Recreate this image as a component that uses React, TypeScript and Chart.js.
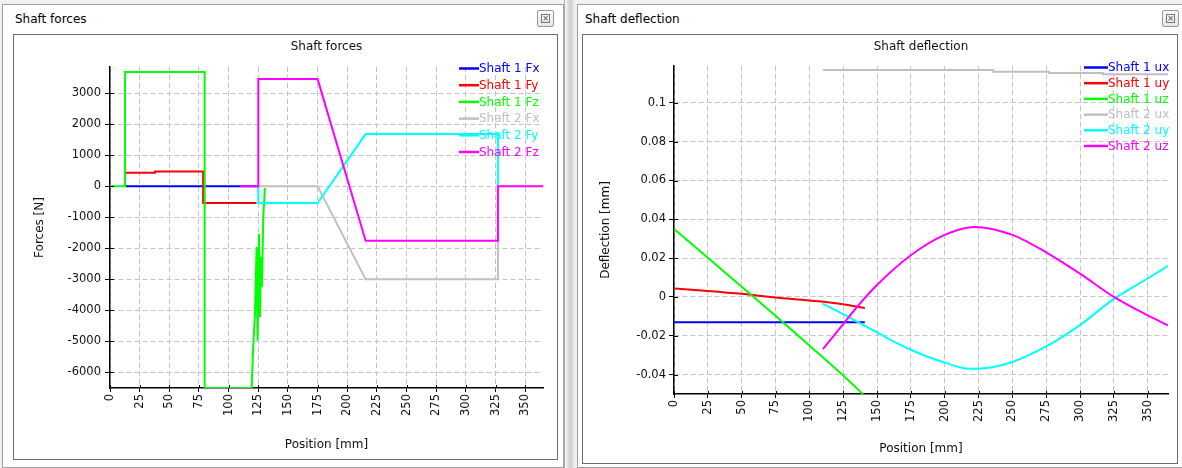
import React, { useEffect, useRef } from 'react';
import { Chart, registerables } from 'chart.js';

Chart.register(...registerables);

const FONT = '"DejaVu Sans", Verdana, sans-serif';
const COLORS = ['#0000ff', '#ff0000', '#00ff00', '#c0c0c0', '#00ffff', '#ff00ff'];
const GRID = '#c4c4c4';
const TEXT = '#111111';

// ---------- Shaft forces [N] vs position [mm] ----------
const forceLabels = ['Shaft 1 Fx', 'Shaft 1 Fy', 'Shaft 1 Fz', 'Shaft 2 Fx', 'Shaft 2 Fy', 'Shaft 2 Fz'];

const s1FxPos = [13.5, 125];
const s1FxVal = [0, 0];

const s1FyPos = [13.5, 38, 38, 78.5, 78.5, 123.5];
const s1FyVal = [430, 430, 470, 470, -540, -540];

const s1FzPos = [0, 12.7, 12.7, 79.8, 79.8, 119.4, 120.7, 122.2, 122.8, 123.6, 124.4, 125.6, 126.4, 127.3, 128.1, 129.2, 130.6];
const s1FzVal = [0, 0, 3680, 3680, -6500, -6500, -5180, -4100, -3140, -1960, -4970, -1530, -4210, -2280, -3250, -990, -60];

const s2FxPos = [125, 175, 215.5, 327, 327];
const s2FxVal = [0, 0, -3000, -3000, 0];

const s2FyPos = [125, 125, 175, 215.5, 327, 327];
const s2FyVal = [0, -540, -540, 1680, 1680, 0];

const s2FzPos = [109.5, 125, 125, 175, 215.5, 327, 327, 365];
const s2FzVal = [0, 0, 3450, 3450, -1760, -1760, 0, 0];

// ---------- Shaft deflection [mm] vs position [mm] ----------
const deflLabels = ['Shaft 1 ux', 'Shaft 1 uy', 'Shaft 1 uz', 'Shaft 2 ux', 'Shaft 2 uy', 'Shaft 2 uz'];

const s1uxPos = [0, 141];
const s1uxVal = [-0.013, -0.013];

const s1uyPos = [0, 25, 50, 75, 100, 125, 141];
const s1uyVal = [0.0044, 0.0031, 0.0016, -0.0003, -0.0018, -0.0037, -0.0057];

const s1uzPos = [0, 25, 50, 75, 100, 125, 141];
const s1uzVal = [0.035, 0.0202, 0.0053, -0.0097, -0.025, -0.0405, -0.051];

const s2uxPos = [110, 236, 236, 277, 277, 317, 317, 365];
const s2uxVal = [0.1169, 0.1169, 0.1161, 0.1161, 0.1154, 0.1154, 0.1148, 0.1148];

const s2uyPos = [110, 125, 137, 150, 162, 175, 187, 200, 211, 220, 235, 250, 275, 300, 325, 350, 365];
const s2uyVal = [-0.0034, -0.0088, -0.0134, -0.0182, -0.0229, -0.0272, -0.0307, -0.0338, -0.0362, -0.037, -0.0362, -0.0335, -0.0255, -0.0145, -0.001, 0.0095, 0.016];

const s2uzPos = [110, 125, 135, 150, 175, 200, 222, 250, 275, 300, 325, 350, 365];
const s2uzVal = [-0.0269, -0.014, -0.0053, 0.0062, 0.0215, 0.032, 0.0361, 0.032, 0.023, 0.012, 0.0, -0.0095, -0.0146];

// axis ranges and tick labels
const posMin = 0;
const posMax = 365;
const posTicks = [0, 25, 50, 75, 100, 125, 150, 175, 200, 225, 250, 275, 300, 325, 350];
const forceMin = -6500;
const forceMax = 3840;
const forceTicks = [-6000, -5000, -4000, -3000, -2000, -1000, 0, 1000, 2000, 3000];
const deflMin = -0.05;
const deflMax = 0.119;
const deflTicks = [-0.04, -0.02, 0, 0.02, 0.04, 0.06, 0.08, 0.1];

const pts = (xs: number[], ys: number[]) => xs.map((x, i) => ({ x, y: ys[i] }));

const overlayPlugin = {
  id: 'overlay',
  afterDraw(chart: any, _args: any, opts: any) {
    const { ctx, chartArea } = chart;
    const { left, right, top, bottom } = chartArea;
    ctx.save();
    ctx.strokeStyle = '#000';
    ctx.lineWidth = 1;
    const ys = chart.scales.y;
    ys.ticks.forEach((_t: any, i: number) => {
      const py = Math.round(ys.getPixelForTick(i)) + 0.5;
      ctx.beginPath();
      ctx.moveTo(left, py);
      ctx.lineTo(left + 4, py);
      ctx.stroke();
    });
    const xs = chart.scales.x;
    xs.ticks.forEach((_t: any, i: number) => {
      const px = Math.round(xs.getPixelForTick(i)) + 0.5;
      ctx.beginPath();
      ctx.moveTo(px, bottom);
      ctx.lineTo(px, bottom - 3);
      ctx.stroke();
    });
    ctx.font = '12px ' + FONT;
    ctx.fillStyle = TEXT;
    ctx.textAlign = 'center';
    ctx.textBaseline = 'middle';
    ctx.fillText(opts.title, (left + right) / 2, opts.titleY);
    ctx.textAlign = 'left';
    chart.data.datasets.forEach((ds: any, i: number) => {
      const y = top + opts.legY0 + i * opts.legDy;
      ctx.strokeStyle = ds.borderColor;
      ctx.lineWidth = 2.5;
      ctx.beginPath();
      ctx.moveTo(right - opts.legX0, y);
      ctx.lineTo(right - opts.legX1, y);
      ctx.stroke();
      ctx.fillStyle = ds.borderColor;
      ctx.fillText(ds.label, right - opts.legX1, y + 0.5);
    });
    ctx.restore();
  },
};

function makeConfig(p: any): any {
  const tickFont = { family: FONT, size: 11.5 };
  const titleFont = { family: FONT, size: 12 };
  return {
    type: 'line',
    data: {
      datasets: p.labels.map((label: string, i: number) => ({
        label,
        data: pts(p.xs[i], p.ys[i]),
        borderColor: COLORS[i],
        backgroundColor: COLORS[i],
        borderWidth: 2,
        pointRadius: 0,
        tension: 0,
        cubicInterpolationMode: p.smooth && p.smooth[i] ? 'monotone' : 'default',
        fill: false,
        order: p.labels.length - i,
      })),
    },
    options: {
      responsive: false,
      animation: false,
      devicePixelRatio: 1,
      layout: { padding: p.padding },
      plugins: {
        legend: { display: false },
        title: { display: false },
        tooltip: { enabled: false },
        overlay: p.overlay,
      },
      scales: {
        x: {
          type: 'linear',
          min: posMin,
          max: posMax,
          afterFit: (s: any) => { s.height = p.xHeight; },
          afterBuildTicks: (s: any) => { s.ticks = posTicks.map((v) => ({ value: v })); },
          ticks: {
            autoSkip: false,
            minRotation: 90,
            maxRotation: 90,
            padding: 2,
            color: TEXT,
            font: tickFont,
            callback: (v: number) => String(v),
          },
          grid: { color: GRID, lineWidth: 1, tickLength: 4, tickColor: '#000', tickWidth: 1 },
          border: { color: '#000', width: 1.5, dash: [5, 3] },
          title: { display: true, text: 'Position [mm]', color: TEXT, font: titleFont, padding: { top: 0, bottom: 7 } },
        },
        y: {
          type: 'linear',
          min: p.yMin,
          max: p.yMax,
          afterFit: (s: any) => { s.width = p.yWidth; },
          afterBuildTicks: (s: any) => { s.ticks = p.yTicks.map((v: number) => ({ value: v })); },
          ticks: {
            autoSkip: false,
            padding: p.yPad,
            color: TEXT,
            font: tickFont,
            callback: (v: number) => String(Math.round(v * 1000) / 1000),
          },
          grid: { color: GRID, lineWidth: 1, tickLength: 5, tickColor: '#000', tickWidth: 1 },
          border: { color: '#000', width: 1.5, dash: [5, 3] },
          title: { display: true, text: p.yTitle, color: TEXT, font: titleFont, padding: { top: p.yTitlePad, bottom: 0 } },
        },
      },
    },
    plugins: [overlayPlugin],
  };
}

function ChartBox({ x, y, w, h, cfg }: any) {
  const ref = useRef<HTMLCanvasElement>(null);
  useEffect(() => {
    const chart = new Chart(ref.current as HTMLCanvasElement, cfg());
    return () => chart.destroy();
  }, []);
  return (
    <canvas
      ref={ref}
      width={w}
      height={h}
      style={{ position: 'absolute', left: x, top: y, width: w, height: h, display: 'block' }}
    />
  );
}

const forcesCfg = () =>
  makeConfig({
    labels: forceLabels,
    xs: [s1FxPos, s1FyPos, s1FzPos, s2FxPos, s2FyPos, s2FzPos],
    ys: [s1FxVal, s1FyVal, s1FzVal, s2FxVal, s2FyVal, s2FzVal],
    padding: { top: 32, right: 14, left: 0, bottom: 0 },
    xHeight: 71,
    yWidth: 96,
    yMin: forceMin,
    yMax: forceMax,
    yTicks: forceTicks,
    yPad: 4,
    yTitle: 'Forces [N]',
    yTitlePad: 19,
    overlay: { title: 'Shaft forces', titleY: 12, legX0: 84, legX1: 64, legY0: 1.5, legDy: 16.7 },
  });

const deflCfg = () =>
  makeConfig({
    labels: deflLabels,
    xs: [s1uxPos, s1uyPos, s1uzPos, s2uxPos, s2uyPos, s2uzPos],
    ys: [s1uxVal, s1uyVal, s1uzVal, s2uxVal, s2uyVal, s2uzVal],
    smooth: [false, true, true, false, true, true],
    padding: { top: 31, right: 9, left: 0, bottom: 0 },
    xHeight: 69,
    yWidth: 91,
    yMin: deflMin,
    yMax: deflMax,
    yTicks: deflTicks,
    yPad: 3,
    yTitle: 'Deflection [mm]',
    yTitlePad: 16,
    overlay: { title: 'Shaft deflection', titleY: 12, legX0: 84, legX1: 60, legY0: 1.5, legDy: 15.7 },
  });

const abs = (l: number, t: number, w: number, h: number, extra: any = {}) => ({
  position: 'absolute' as const,
  left: l,
  top: t,
  width: w,
  height: h,
  boxSizing: 'border-box' as const,
  ...extra,
});

function CloseBtn({ x, y }: any) {
  return (
    <div style={abs(x, y, 17, 17, { border: '1px solid #9a9a9a', borderRadius: 2, background: 'linear-gradient(#fdfdfd, #e6e6e6)' })}>
      <div style={abs(3, 3, 9, 9, { border: '1px solid #777', fontSize: 8, lineHeight: '7px', textAlign: 'center', color: '#444', fontFamily: FONT })}>×</div>
    </div>
  );
}

export default function App() {
  return (
    <div style={abs(0, 0, 1182, 468, { position: 'fixed', background: '#f0f0f0', overflow: 'hidden', fontFamily: FONT })}>
      <div style={abs(2, 4, 562, 464, { border: '1px solid #a0a0a0', background: '#ffffff' })} />
      <div style={abs(15, 10, 200, 18, { fontSize: 12, color: '#000', lineHeight: '18px' })}>Shaft forces</div>
      <CloseBtn x={537} y={10} />
      <div style={abs(13, 34, 545, 426, { border: '1px solid #6e6e6e', background: '#fff' })} />
      <ChartBox x={14} y={35} w={543} h={424} cfg={forcesCfg} />

      <div style={abs(564, 0, 12, 468, { background: 'linear-gradient(to right, #f4f4f4, #d0d0d0, #f4f4f4)', borderLeft: '1px solid #b0b0b0' })} />

      <div style={abs(577, 4, 606, 464, { border: '1px solid #a0a0a0', background: '#ffffff' })} />
      <div style={abs(585, 10, 200, 18, { fontSize: 12, color: '#000', lineHeight: '18px' })}>Shaft deflection</div>
      <CloseBtn x={1162} y={10} />
      <div style={abs(582, 34, 596, 430, { border: '1px solid #6e6e6e', background: '#fff' })} />
      <ChartBox x={583} y={35} w={594} h={428} cfg={deflCfg} />
    </div>
  );
}
